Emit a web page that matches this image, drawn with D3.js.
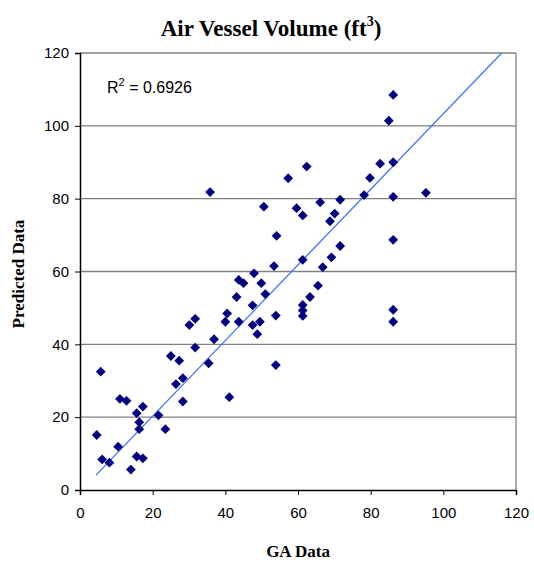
<!DOCTYPE html>
<html><head><meta charset="utf-8">
<script src="https://cdn.jsdelivr.net/npm/d3@7"></script>
<style>body{margin:0;background:#fff}svg{display:block}</style>
</head><body><svg id="c" width="534" height="564"></svg>
<script>
const gaData = [4.6,5.7,6.1,8.1,10.5,11,12.8,14,15.6,17.3,15.6,16.3,16.3,17.3,21.6,23.5,25,27.3,26.4,28.3,28.3,30.1,31.7,31.7,35.4,36.9,40,40.5,41.1,35.8,43.1,43.7,43.7,45,47.5,49.5,48.8,47.5,47.9,49.9,51,50.6,53.4,54.1,53.9,53.9,57.3,59.6,61.3,62.4,61.3,61.3,61.3,61.3,63.3,65.5,66.8,66.1,69.2,71.6,68.8,70.1,71.6,86.2,85,82.6,86.2,79.8,78.2,86.2,95.2,86.2,86.2,86.2];
const predicted = [15.1,32.5,8.4,7.5,11.9,25,24.5,5.6,9.2,8.7,21.1,18.6,16.7,22.9,20.5,16.7,36.8,35.5,29.1,30.7,24.3,45.3,47,39.1,34.8,41.4,46.2,48.5,25.5,81.8,53,46.2,57.7,56.8,45.3,46.2,42.8,50.7,59.5,56.8,53.8,77.8,61.5,69.8,47.9,34.3,85.6,77.4,75.4,88.8,63.2,50.8,49.3,47.8,53,56.1,61.2,79,63.9,67,73.8,75.9,79.7,108.5,101.4,89.6,90,85.7,81,80.5,81.6,68.7,49.5,46.2];
const xTicks = [0,20,40,60,80,100,120];
const yTicks = [0,20,40,60,80,100,120];
const trendSlope = 1.038, trendIntercept = -0.47, trendStartX = 4.4;
const r2Text = "0.6926";

const svg = d3.select("#c");
const L=80, R=516, T=53, B=490;
const x = d3.scaleLinear().domain([0,120]).range([L,R]);
const y = d3.scaleLinear().domain([0,120]).range([B,T]);

// gridlines
svg.append("g").selectAll("line").data(yTicks.filter(d=>d>0)).join("line")
  .attr("x1",L).attr("x2",R).attr("y1",d=>y(d)).attr("y2",d=>y(d))
  .attr("stroke","#808080").attr("stroke-width",1.3);
// plot border right
svg.append("line").attr("x1",R).attr("x2",R).attr("y1",T).attr("y2",B).attr("stroke","#808080").attr("stroke-width",1.3);

const xa = svg.append("g").attr("transform",`translate(0,${B})`)
  .call(d3.axisBottom(x).tickValues(xTicks).tickSize(5).tickPadding(12));
const ya = svg.append("g").attr("transform",`translate(${L},0)`)
  .call(d3.axisLeft(y).tickValues(yTicks).tickSize(5).tickPadding(6));
[xa,ya].forEach(a=>{
  a.select(".domain").attr("stroke","#000").attr("stroke-width",1.5);
  a.selectAll(".tick line").attr("stroke","#000");
  a.selectAll("text").attr("font-family","Liberation Sans, Arial, sans-serif").attr("font-size",15).attr("fill","#000");
});

// trendline
svg.append("clipPath").attr("id","pc").append("rect").attr("x",L).attr("y",T).attr("width",R-L).attr("height",B-T);
const xEnd = (120 - trendIntercept)/trendSlope;
svg.append("line").attr("clip-path","url(#pc)")
  .attr("x1",x(trendStartX)).attr("y1",y(trendSlope*trendStartX+trendIntercept))
  .attr("x2",x(xEnd)).attr("y2",y(120))
  .attr("stroke","#3f6fff").attr("stroke-width",1.3);

// points
const sym = d3.symbol().type(d3.symbolSquare).size(48);
svg.append("g").selectAll("path").data(gaData.map((v,i)=>[v,predicted[i]])).join("path")
  .attr("d",sym).attr("fill","#000080")
  .attr("transform",d=>`translate(${x(d[0])},${y(d[1])}) rotate(45)`);

// R2 label
const r2 = svg.append("text").attr("x",107).attr("y",93).attr("font-family","Liberation Sans, Arial, sans-serif").attr("font-size",16).attr("fill","#000");
r2.append("tspan").text("R");
r2.append("tspan").attr("font-size",11).attr("dy",-7).text("2");
r2.append("tspan").attr("dy",7).text(" = " + r2Text);

// title
const t = svg.append("text").attr("x",271).attr("y",36).attr("text-anchor","middle")
  .attr("font-family","Liberation Serif, Times New Roman, serif").attr("font-weight","bold").attr("font-size",23).attr("fill","#000");
t.append("tspan").text("Air Vessel Volume (ft");
t.append("tspan").attr("font-size",14).attr("dy",-10).text("3");
t.append("tspan").attr("dy",10).text(")");

svg.append("text").attr("x",298).attr("y",557).attr("text-anchor","middle")
  .attr("font-family","Liberation Serif, Times New Roman, serif").attr("font-weight","bold").attr("font-size",17).text("GA Data");
svg.append("text").attr("transform","translate(24,274) rotate(-90)").attr("text-anchor","middle")
  .attr("font-family","Liberation Serif, Times New Roman, serif").attr("font-weight","bold").attr("font-size",17).text("Predicted Data");
</script></body></html>
